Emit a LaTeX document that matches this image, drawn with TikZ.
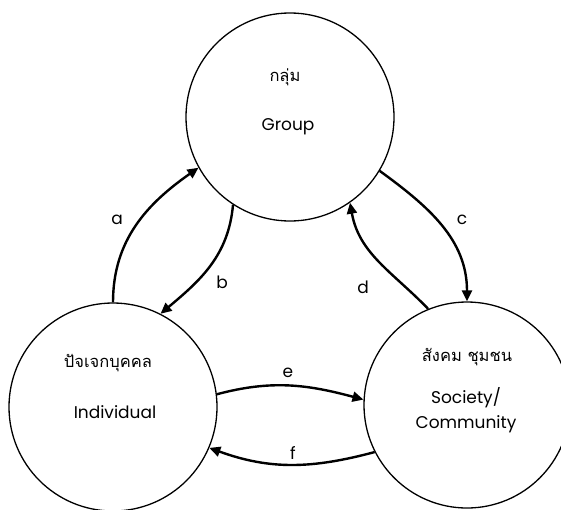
\documentclass[tikz,border=0pt]{standalone}
\usepackage{fontspec}
\setmainfont{Poppins}
\newfontfamily\thaifont[Script=Thai]{Loma}
\usetikzlibrary{arrows.meta}
\begin{document}
\begin{tikzpicture}[x=1pt,y=1pt,
  circ/.style={circle,draw,line width=1.3pt,minimum size=208pt,inner sep=0pt},
  link/.style={line width=2.4pt,-{Triangle[length=11pt,width=10pt]}},
  eng/.style={font=\fontsize{17}{25}\selectfont,inner sep=0pt},
  thai/.style={font=\thaifont\fontsize{16.5}{19}\selectfont,inner sep=0pt},
  lbl/.style={font=\fontsize{17}{20}\selectfont,inner sep=0pt}]
\useasboundingbox (0,-509) rectangle (561,0);
\clip (0,-509) rectangle (561,0);
\node[circ] (grp) at (290,-117) {};
\node[circ] (ind) at (113,-407) {};
\node[circ,minimum size=206pt] (soc) at (467,-405) {};
\node[thai] (grpth) at (285,-77) {กลุ่ม};
\node[eng] (grpen) at (288,-127) {Group};
\node[thai] (indth) at (108,-363) {ปัจเจกบุคคล};
\node[eng] (inden) at (115,-412) {Individual};
\node[thai] (socth) at (467,-357) {สังคม ชุมชน};
\node[eng,align=center] (socen) at (466,-410) {Society/\\Community};
\draw[link] (ind.90) to[out=90,in=215] (grp.209.5);
\draw[link] (grp.237.4) to[out=265,in=40] (ind.63.4);
\draw[link] (grp.329) to[out=-36,in=90] (soc.90);
\draw[link] (soc.112) to[out=134,in=-80] (grp.305);
\draw[link] (ind.7) to[out=15,in=165] (soc.177);
\draw[link] (soc.207.5) to[out=195,in=-20] (ind.337.5);
\node[lbl] (la) at (117,-220) {a};
\node[lbl] (lb) at (222,-282) {b};
\node[lbl] (lc) at (462,-220) {c};
\node[lbl] (ld) at (363,-287) {d};
\node[lbl] (le) at (288,-373) {e};
\node[lbl] (lf) at (293,-453) {f};
\end{tikzpicture}
\end{document}
